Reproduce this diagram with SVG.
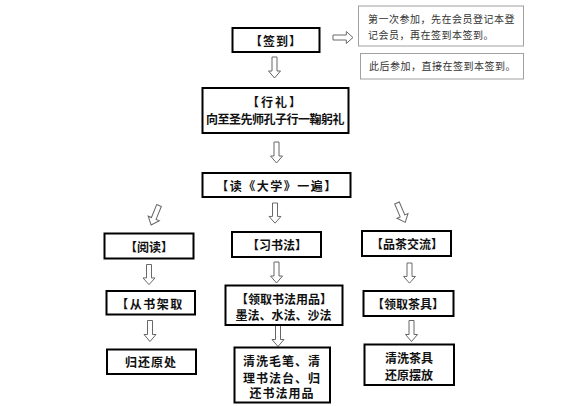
<svg xmlns="http://www.w3.org/2000/svg" xmlns:xlink="http://www.w3.org/1999/xlink" width="573" height="406" viewBox="0 0 573 406">
<style>
.box{fill:#fff;stroke:#000;stroke-width:2}
.note{fill:#fff;stroke:#a0a0a0;stroke-width:1}
.t{font-family:"Noto Sans CJK SC","Noto Sans CJK JP",sans-serif;font-size:12px;font-weight:bold;fill:#111;text-anchor:middle;dominant-baseline:central}
.n{font-family:"Noto Sans CJK SC","Noto Sans CJK JP",sans-serif;font-size:10px;fill:#333;dominant-baseline:central}
.arr{fill:#fff;stroke:#666;stroke-width:1}
</style>
<defs>
<path id="da" class="arr" d="M-2.5,0 H2.5 V14 H6 L0,21 L-6,14 H-2.5 Z"/>
</defs>
<rect width="573" height="406" fill="#fff"/>
<g id="connectors">
<use xlink:href="#da" transform="translate(333,37.5) rotate(-90) scale(1,0.95)"/>
<use xlink:href="#da" transform="translate(274.5,57)"/>
<use xlink:href="#da" transform="translate(276.5,142)"/>
<use xlink:href="#da" transform="translate(159,205.5) rotate(22)"/>
<use xlink:href="#da" transform="translate(275,203) scale(1,0.96)"/>
<use xlink:href="#da" transform="translate(397,203) rotate(-23)"/>
<use xlink:href="#da" transform="translate(149,264.5) scale(1,0.96)"/>
<use xlink:href="#da" transform="translate(276.5,262)"/>
<use xlink:href="#da" transform="translate(409.5,263) scale(1,0.96)"/>
<use xlink:href="#da" transform="translate(150,320.5)"/>
<use xlink:href="#da" transform="translate(278,325.5)"/>
<use xlink:href="#da" transform="translate(411.5,320.5)"/>
</g>
<g id="qiandao">
<rect class="box" x="232.5" y="28" width="87" height="24"/>
<text class="t" x="276" y="40" letter-spacing="1">【签到】</text>
</g>
<g id="note1">
<rect class="note" x="358.5" y="6" width="165" height="40"/>
<text class="n" x="368" y="18.5" letter-spacing="0.5">第一次参加，先在会员登记本登</text>
<text class="n" x="368" y="34.5" letter-spacing="0.5">记会员，再在签到本签到。</text>
</g>
<g id="note2">
<rect class="note" x="360.5" y="53.5" width="163" height="25.5"/>
<text class="n" x="369" y="65.5" letter-spacing="0.5">此后参加，直接在签到本签到。</text>
</g>
<g id="xingli">
<rect class="box" x="202.5" y="88" width="146" height="45"/>
<text class="t" x="275" y="101" letter-spacing="2">【行礼】</text>
<text class="t" x="275" y="118.5" letter-spacing="-0.5">向至圣先师孔子行一鞠躬礼</text>
</g>
<g id="daxue">
<rect class="box" x="202.5" y="173" width="148" height="24"/>
<text class="t" x="277" y="185" letter-spacing="1.5">【读《大学》一遍】</text>
</g>
<g id="yuedu">
<rect class="box" x="104.5" y="233.5" width="89" height="25"/>
<text class="t" x="149" y="246">【阅读】</text>
</g>
<g id="xishufa">
<rect class="box" x="232" y="232" width="89" height="25"/>
<text class="t" x="277" y="244.5">【习书法】</text>
</g>
<g id="pincha">
<rect class="box" x="362" y="231" width="89" height="25"/>
<text class="t" x="407" y="243.5">【品茶交流】</text>
</g>
<g id="congshujia">
<rect class="box" x="106.5" y="291" width="88.5" height="23.5"/>
<text class="t" x="150" y="303" letter-spacing="1.5">【从书架取</text>
</g>
<g id="lingqushufa">
<rect class="box" x="225.5" y="285.5" width="117" height="39.5"/>
<text class="t" x="284" y="298">【领取书法用品】</text>
<text class="t" x="283.5" y="314.5">墨法、水法、沙法</text>
</g>
<g id="lingquchaju">
<rect class="box" x="363.5" y="291" width="90" height="25"/>
<text class="t" x="408" y="303.5">【领取茶具】</text>
</g>
<g id="guihuan">
<rect class="box" x="107" y="349.5" width="89" height="24.5"/>
<text class="t" x="151" y="361.5" letter-spacing="1">归还原处</text>
</g>
<g id="qingxibi">
<rect class="box" x="234.5" y="347.5" width="95.5" height="55"/>
<text class="t" x="282" y="360.5" letter-spacing="1">清洗毛笔、清</text>
<text class="t" x="282" y="377" letter-spacing="1">理书法台、归</text>
<text class="t" x="282" y="392.5" letter-spacing="1">还书法用品</text>
</g>
<g id="qingxichaju">
<rect class="box" x="364.5" y="344.5" width="89.5" height="40.5"/>
<text class="t" x="409" y="357.5">清洗茶具</text>
<text class="t" x="409" y="374">还原摆放</text>
</g>
</svg>
